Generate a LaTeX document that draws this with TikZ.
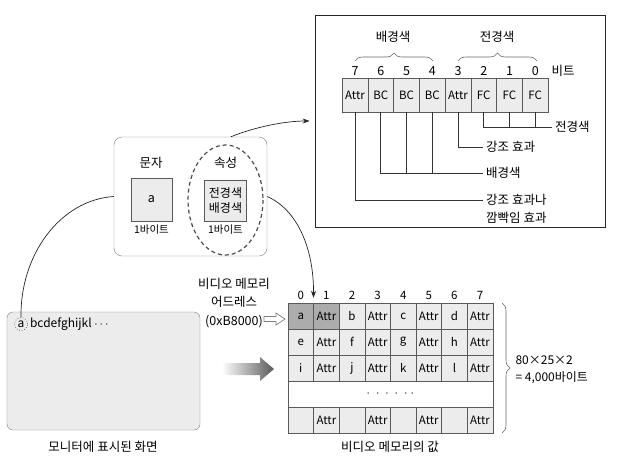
\documentclass[tikz,border=0pt]{standalone}
\usepackage{fontspec}
\setmainfont{Noto Sans CJK KR}
\usetikzlibrary{arrows.meta,decorations.pathreplacing}

\tikzset{
  bit/.style={draw=black!65, fill=gray!15, minimum width=25.75, minimum height=34, inner sep=0pt, font=\fontsize{11.5}{13}\selectfont},
  mem/.style={draw=black!65, minimum width=25.6, minimum height=26, inner sep=0pt, font=\fontsize{11.5}{13}\selectfont},
  case/.style={draw=black!65, fill=gray!15, inner sep=0pt},
  etiq/.style={anchor=west, inner sep=3pt},
  petit/.style={font=\fontsize{10.5}{12}\selectfont},
  fil/.style={draw=black!80, line width=0.7pt},
  fleche/.style={draw=black!85, line width=0.7pt, -{Stealth[length=7pt,width=5pt]}, shorten >=5pt},
  accolade/.style={draw=black!60, line width=0.6pt, decorate, decoration={brace, amplitude=8pt}}
}

\begin{document}
\begin{tikzpicture}[x=1pt,y=-1pt,font=\fontsize{12.5}{14}\selectfont]
\useasboundingbox (0,0) rectangle (618,461);

% octet d'attribut
\node[draw=black!85, line width=0.8pt, minimum width=290, minimum height=212] (octet) at (460,121) {};
\foreach \t [count=\i from 0] in {Attr,BC,BC,BC,Attr,FC,FC,FC} {
  \pgfmathtruncatemacro\n{7-\i}
  \node[bit] (b\i) at ({355+25.75*\i},95) {\t};
  \node (n\i) at ({355+25.75*\i},71) {\n};
}
\node (bits) at (563,71) {비트};
\draw[accolade] (355,61) -- (433,61); %배경색
\draw[accolade] (458,61) -- (537,61); %전경색
\node (bgtop) at (393,37) {배경색};
\node (fgtop) at (497,37) {전경색};

\node[etiq] (fc) at (552,127) {전경색};
\node[etiq] (hl) at (483,147) {강조 효과};
\node[etiq] (bc) at (483,173) {배경색};
\node[etiq] (bl) at (483,200) {강조 효과나};
\node[etiq] (bl2) at (483,218) {깜빡임 효과};
\draw[fil] (b5.south) |- (fc.west);
\draw[fil] (b6.south) -- (b6.south |- fc.west);
\draw[fil] (b7.south) -- (b7.south |- fc.west);
\draw[fil] (b4.south) |- (hl.west);
\draw[fil] (b1.south) |- (bc.west);
\draw[fil] (b2.south) -- (b2.south |- bc.west);
\draw[fil] (b3.south) -- (b3.south |- bc.west);
\draw[fil] (b0.south) |- (bl.west);

% deux octets
\node[draw=black!50, rounded corners=8pt, minimum width=153, minimum height=119] (octets) at (190.5,196.5) {};
\node (car) at (151,163) {문자};
\node[case, minimum width=41, minimum height=43] (a) at (151.5,199.5) {a};
\node[petit] (carb) at (151.5,230) {1바이트};
\draw[black!70, line width=1.2pt, dash pattern=on 4pt off 3pt] (225.5,200) ellipse (37.5 and 55);
\node (att) at (225.5,163) {속성};
\node[case, minimum width=42, minimum height=41, align=center, font=\fontsize{12}{15}\selectfont] (fb) at (225.5,200.5) {전경색\\배경색};
\node[petit] (attb) at (225.5,230) {1바이트};

% ecran
\node[draw=black!50, fill=gray!15, rounded corners=6pt, minimum width=193, minimum height=118] (ecran) at (103.5,371) {};
\node[draw=black!80, dotted, line width=0.6pt, circle, minimum size=13, inner sep=0pt, font=\fontsize{12}{13}\selectfont] (ca) at (21,324) {a};
\node[anchor=west, inner sep=2pt, font=\fontsize{12}{13}\selectfont] (txt) at (ca.east) {bcdefghijkl $\cdots$};
\node (ecrant) at (103,447) {모니터에 표시된 화면};

% memoire video
\foreach \r/\p/\q/\s/\t in {0/a/b/c/d,1/e/f/g/h,2/i/j/k/l,4/{}/{}/{}/{}} {
  \foreach \ch [count=\c from 0] in {\p,Attr,\q,Attr,\s,Attr,\t,Attr} {
    \pgfmathtruncatemacro\ton{(\r==0 && \c<2) ? 65 : 15}
    \node[mem, fill=gray!\ton] (m\r\c) at ({300.8+25.6*\c},{316+26*\r}) {\ch};
  }
}
\node[mem, fill=white, minimum width=204.8] (mdots) at (390.4,394) {$\cdot\;\cdot\;\cdot\;\cdot\;\cdot\;\cdot$};
\foreach \c in {0,...,7}
  \node[font=\fontsize{11.5}{13}\selectfont] (col\c) at ({300.8+25.6*\c},295) {\c};

\node[align=center, font=\fontsize{12.5}{18.5}\selectfont] (adr) at (234,303) {비디오 메모리\\어드레스\\(0xB8000)};
\draw[black!50, fill=white, line width=0.7pt] (264,316.5) -- (276,316.5) -- (276,313) -- (285,319) -- (276,325) -- (276,321.5) -- (264,321.5) -- cycle; %fleche creuse
\shade[left color=white, right color=black!65] (222,363) -- (260,363) -- (260,357) -- (274,369) -- (260,381) -- (260,375) -- (222,375) -- cycle;

\draw[accolade] (502,303) -- (502,433);
\node[anchor=west, font=\fontsize{12}{13}\selectfont] (taille) at (512,360) {80×25×2};
\node[anchor=west, font=\fontsize{12}{13}\selectfont] (taille2) at (512,378) {= 4,000바이트};
\node (memt) at (390,447) {비디오 메모리의 값};

% liens
\draw[fleche] (octets.56) .. controls (255,127) and (285,121) .. (octet.west);
\draw[fleche] (octets.east) .. controls (298,210) and (314,250) .. (m01.north west);
\draw[draw=black!85, line width=0.7pt] (octets.west) .. controls (60,200) and (20,255) .. (ca.north);
\end{tikzpicture}
\end{document}
